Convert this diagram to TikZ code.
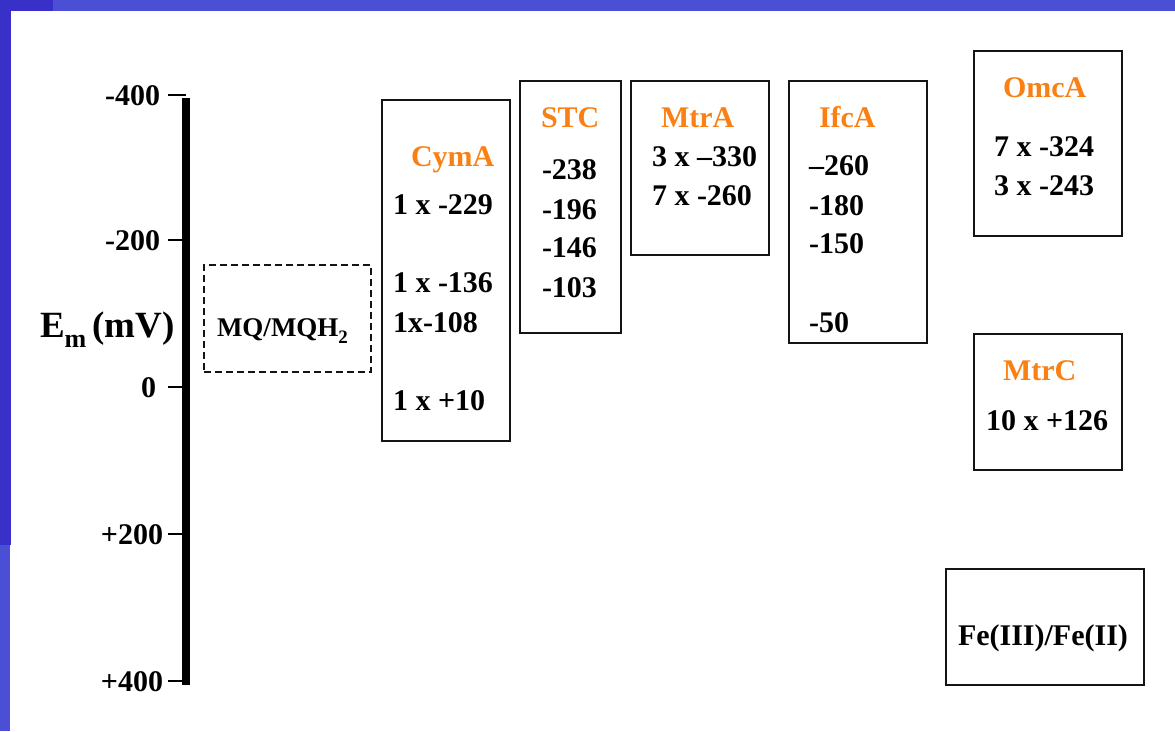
\documentclass[tikz,border=0pt]{standalone}
\usepackage{fontspec}
\setmainfont{Liberation Serif}
\newcommand*{\potfont}{\bfseries\fontsize{30}{36}\selectfont}
\definecolor{O}{RGB}{250,128,20}
\definecolor{framelight}{RGB}{74,79,214}
\definecolor{framedark}{RGB}{56,48,200}
\definecolor{boxline}{RGB}{20,20,20}
\usetikzlibrary{positioning}
\tikzstyle{base}=[inner sep=0pt, outer sep=0pt, x=1pt, y=-1pt]
\tikzstyle{protbox}=[draw=boxline, line width=1.5pt, anchor=north west, inner sep=0pt]
\tikzstyle{protname}=[O, anchor=base west, inner sep=0pt]
\tikzstyle{potential}=[black, anchor=base west, inner sep=0pt]
\tikzstyle{ticklabel}=[black, anchor=east, inner sep=0pt]

\begin{document}
\begin{tikzpicture}[base]
    \potfont
        % frame of the slide
        \path [use as bounding box] (0,0) rectangle (1175,731);
        \fill [framelight] (0,0) rectangle (1175,10.5);
        \fill [framedark] (0,0) rectangle (53,10.5);
        \fill [framedark] (0,0) rectangle (10.7,545);
        \fill [framelight] (0,545) rectangle (10,731);
        % potential axis
        \draw [line width=8pt] (186,98) -- (186,685);
        \draw [line width=1.5pt] (168,95) -- (186,95);
        \draw [line width=1.5pt] (168,240) -- (186,240);
        \draw [line width=1.5pt] (168,387) -- (186,387);
        \draw [line width=1.5pt] (168,534) -- (186,534);
        \draw [line width=1.5pt] (168,681) -- (186,681);
        \node [ticklabel] (tminus400) at (160,96) {-400};
        \node [ticklabel] (tminus200) at (160,241) {-200};
        \node [ticklabel] (tzero) at (156,388) {0};
        \node [ticklabel] (tplus200) at (163,535) {+200};
        \node [ticklabel] (tplus400) at (163,682) {+400};
        \node [anchor=base west, inner sep=0pt] (emlabel) at (40,337)
            {\fontsize{37}{40}\selectfont E\raisebox{-10pt}{\fontsize{26}{26}\selectfont m}\,(mV)};
        % quinone pool
        \node [draw=boxline, line width=1.5pt, dash pattern=on 7pt off 4pt, anchor=north west,
            minimum width=167pt, minimum height=107pt] (mqbox) at (204,265) {};
        \node [anchor=base west, inner sep=0pt] (mq) at (217,336)
            {\fontsize{27}{30}\selectfont MQ/MQH\raisebox{-7pt}{\fontsize{19}{19}\selectfont 2}};
        % CymA
        \node [protbox, minimum width=128pt, minimum height=341pt] (cymabox) at (382,100) {};
        \node [protname] (cyma) at (411,166) {CymA};
        \node [potential] (cyma1) at (393,214) {1 x -229};
        \node [potential] (cyma2) at (393,292) {1 x -136};
        \node [potential] (cyma3) at (393,332) {1x-108};
        \node [potential] (cyma4) at (393,410) {1 x +10};
        % STC
        \node [protbox, minimum width=101pt, minimum height=252pt] (stcbox) at (520,81) {};
        \node [protname] (stc) at (541,127) {STC};
        \node [potential] (stc1) at (542,179) {-238};
        \node [potential] (stc2) at (542,219) {-196};
        \node [potential] (stc3) at (542,257) {-146};
        \node [potential] (stc4) at (542,297) {-103};
        % MtrA
        \node [protbox, minimum width=138pt, minimum height=174pt] (mtrabox) at (631,81) {};
        \node [protname] (mtra) at (661,127) {MtrA};
        \node [potential] (mtra1) at (652,166) {3 x --330};
        \node [potential] (mtra2) at (652,205) {7 x -260};
        % IfcA
        \node [protbox, minimum width=138pt, minimum height=262pt] (ifcabox) at (789,81) {};
        \node [protname] (ifca) at (819,127) {IfcA};
        \node [potential] (ifca1) at (809,175) {--260};
        \node [potential] (ifca2) at (809,215) {-180};
        \node [potential] (ifca3) at (809,253) {-150};
        \node [potential] (ifca4) at (809,332) {-50};
        % OmcA
        \node [protbox, minimum width=148pt, minimum height=185pt] (omcabox) at (974,51) {};
        \node [protname] (omca) at (1003,97) {OmcA};
        \node [potential] (omca1) at (994,156) {7 x -324};
        \node [potential] (omca2) at (994,195) {3 x -243};
        % MtrC
        \node [protbox, minimum width=148pt, minimum height=136pt] (mtrcbox) at (974,334) {};
        \node [protname] (mtrc) at (1003,380) {MtrC};
        \node [potential] (mtrc1) at (986,430) {10 x +126};
        % acceptor
        \node [protbox, minimum width=198pt, minimum height=116pt] (febox) at (946,569) {};
        \node [potential] (fe) at (958,645) {Fe(III)/Fe(II)};
    \end{tikzpicture}
\end{document}
